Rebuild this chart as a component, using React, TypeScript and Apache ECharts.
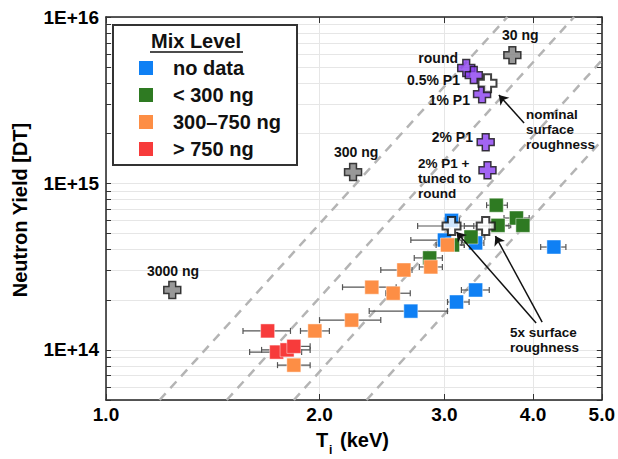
import React, { useEffect, useRef } from "react";
import * as echarts from "echarts";

const FONT = "'Liberation Sans', Arial, Helvetica, sans-serif";

const xTickValues = [1, 2, 3, 4, 5];
const yLabelValues = [1e14, 1e15, 1e16];
const yTickValues = [
  5e13, 6e13, 7e13, 8e13, 9e13,
  1e14, 2e14, 3e14, 4e14, 5e14, 6e14, 7e14, 8e14, 9e14,
  1e15, 2e15, 3e15, 4e15, 5e15, 6e15, 7e15, 8e15, 9e15, 1e16,
];

// [Ti (keV), yield, Ti low, Ti high]
const noData = [
  [3.07, 6.0e14, 3.0, 3.15],
  [3.0, 4.57e14, 2.69, 3.18],
  [3.32, 4.39e14, 3.17, 3.41],
  [4.28, 4.15e14, 4.1, 4.45],
  [3.32, 2.29e14, 3.17, 3.47],
  [3.12, 1.94e14, 3.03, 3.25],
  [2.69, 1.71e14, 2.35, 3.03],
];
const under300 = [
  [3.55, 7.4e14, 3.44, 3.68],
  [3.79, 6.2e14, 3.64, 3.95],
  [3.87, 5.6e14, 3.82, 3.92],
  [3.57, 5.6e14, 3.47, 3.72],
  [3.27, 4.77e14, 3.15, 3.42],
  [3.08, 4.27e14, 2.98, 3.2],
  [2.86, 3.57e14, 2.72, 2.98],
];
const mid300to750 = [
  [3.03, 4.27e14, 2.92, 3.2],
  [2.87, 3.15e14, 2.765, 2.98],
  [2.63, 3.02e14, 2.44, 2.7],
  [2.54, 2.19e14, 2.48, 2.685],
  [2.37, 2.38e14, 2.155, 2.565],
  [2.22, 1.51e14, 2.0, 2.44],
  [1.97, 1.3e14, 1.88, 2.065],
  [1.84, 8.1e13, 1.745, 1.94],
];
const over750 = [
  [1.69, 1.3e14, 1.56, 1.82],
  [1.74, 9.7e13, 1.594, 1.887],
  [1.8, 1.0e14, 1.657, 1.94],
  [1.84, 1.05e14, 1.774, 1.94],
];
// simulations
const purpleSims = [
  [3.22, 4.94e15],
  [3.3, 4.48e15],
  [3.39, 3.44e15],
  [3.43, 1.77e15],
  [3.45, 1.2e15],
];
const graySims = [
  [3.74, 5.9e15],
  [2.23, 1.17e15],
  [1.24, 2.29e14],
];
const whiteNominal = [[3.45, 4.0e15]];
const white5x = [
  [3.07, 5.55e14, 2.75, 3.3],
  [3.43, 5.55e14, 3.2, 3.7],
];
// dashed guide lines: [start, end]
const guideLines = [
  [[1.19, 5e13], [3.68, 1e16]],
  [[1.48, 5e13], [4.57, 1e16]],
  [[1.84, 5e13], [5, 5.49e15]],
  [[2.33, 5e13], [5, 1.81e15]],
];
// arrows: [from, to]
const arrows = [
  [[3.885, 2.31e15], [3.58, 3.4e15]],
  [[4.04, 1.45e14], [3.12, 5.1e14]],
  [[4.12, 1.47e14], [3.54, 4.83e14]],
];

const legendLabels = ["no data", "< 300 ng", "300\u2013750 ng", "> 750 ng"];
const legendColors = ["#0f80f4", "#2e7a22", "#fd8e45", "#f73b3b"];

const CROSS =
  "path://M3,0 L7,0 L7,3 L10,3 L10,7 L7,7 L7,10 L3,10 L3,7 L0,7 L0,3 L3,3 Z";

function errorBarSeries(data: number[][], z: number) {
  return {
    type: "custom",
    data,
    z,
    silent: true,
    encode: { x: [0, 2, 3], y: 1 },
    renderItem: (params: any, api: any) => {
      const y = api.value(1);
      const lo = api.coord([api.value(2), y]);
      const hi = api.coord([api.value(3), y]);
      const st = { stroke: "#555", lineWidth: 1.2 };
      return {
        type: "group",
        children: [
          { type: "line", shape: { x1: lo[0], y1: lo[1], x2: hi[0], y2: hi[1] }, style: st },
          { type: "line", shape: { x1: lo[0], y1: lo[1] - 3, x2: lo[0], y2: lo[1] + 3 }, style: st },
          { type: "line", shape: { x1: hi[0], y1: hi[1] - 3, x2: hi[0], y2: hi[1] + 3 }, style: st },
        ],
      };
    },
  };
}

function squareSeries(data: number[][], color: string, z: number) {
  return {
    type: "scatter",
    data: data.map((d) => [d[0], d[1]]),
    symbol: "rect",
    symbolSize: 14,
    z,
    itemStyle: { color, borderColor: "rgba(255,255,255,0.45)", borderWidth: 1, opacity: 1 },
  };
}

export default function App() {
  const ref = useRef<HTMLDivElement>(null);
  useEffect(() => {
    if (!ref.current) return;
    const chart = echarts.init(ref.current, undefined, { renderer: "svg" });
    const axisCommon = {
      type: "log",
      logBase: 10,
    };
    const lineStyleAxis = { color: "#222", width: 1.5 };
    const option: any = {
      animation: false,
      backgroundColor: "#fff",
      grid: { left: 106, right: 15, top: 17, bottom: 59 },
      xAxis: [
        {
          ...axisCommon,
          min: 1,
          max: 5,
          position: "bottom",
          axisLine: { show: true, lineStyle: lineStyleAxis },
          axisTick: { show: true, inside: true, length: 6, customValues: xTickValues, lineStyle: { color: "#333" } },
          minorTick: { show: false },
          axisLabel: {
            customValues: xTickValues,
            formatter: (v: number) => v.toFixed(1),
            fontSize: 19,
            fontWeight: "bold",
            fontFamily: FONT,
            color: "#000",
            margin: 5,
          },
          splitLine: { show: true, lineStyle: { color: "#e6e6e6", width: 1 } },
        },
        {
          ...axisCommon,
          min: 1,
          max: 5,
          position: "top",
          axisLine: { show: true, lineStyle: lineStyleAxis },
          axisTick: { show: true, inside: true, length: 6, customValues: xTickValues, lineStyle: { color: "#333" } },
          axisLabel: { show: false },
          splitLine: { show: false },
        },
      ],
      yAxis: [
        {
          ...axisCommon,
          min: 5e13,
          max: 1e16,
          position: "left",
          axisLine: { show: true, lineStyle: lineStyleAxis },
          axisTick: { show: true, inside: true, length: 5, customValues: yTickValues, lineStyle: { color: "#333" } },
          axisLabel: {
            customValues: yLabelValues,
            formatter: (v: number) => "1E+" + Math.round(Math.log10(v)),
            fontSize: 19,
            fontWeight: "bold",
            fontFamily: FONT,
            color: "#000",
            margin: 7,
          },
          splitLine: { show: true, lineStyle: { color: "#e6e6e6", width: 1 } },
        },
        {
          ...axisCommon,
          min: 5e13,
          max: 1e16,
          position: "right",
          axisLine: { show: true, lineStyle: lineStyleAxis },
          axisTick: { show: true, inside: true, length: 5, customValues: yTickValues, lineStyle: { color: "#333" } },
          axisLabel: { show: false },
          splitLine: { show: false },
        },
      ],
      series: [
        ...guideLines.map((l) => ({
          type: "line",
          data: l,
          symbol: "none",
          silent: true,
          clip: true,
          z: 1,
          lineStyle: { color: "#b4b4b4", width: 2.5, type: [9, 7] },
        })),
        errorBarSeries([...noData, ...under300, ...mid300to750, ...over750, ...white5x], 2),
        squareSeries(noData, legendColors[0], 3),
        squareSeries(under300, legendColors[1], 4),
        squareSeries(mid300to750, legendColors[2], 5),
        squareSeries(over750, legendColors[3], 6),
        {
          type: "scatter",
          data: graySims,
          symbol: CROSS,
          symbolSize: 17,
          z: 7,
          itemStyle: { color: "#7e7e7e", borderColor: "#111", borderWidth: 1.5 },
        },
        {
          type: "scatter",
          data: purpleSims,
          symbol: CROSS,
          symbolSize: 17,
          z: 7,
          itemStyle: { color: "#8b3ef0", borderColor: "#111", borderWidth: 1.5 },
        },
        {
          type: "scatter",
          data: [...whiteNominal, ...white5x.map((d) => [d[0], d[1]])],
          symbol: CROSS,
          symbolSize: 18,
          z: 8,
          itemStyle: { color: "#fff", borderColor: "#111", borderWidth: 2 },
          markLine: {
            silent: true,
            symbol: ["none", "arrow"],
            symbolSize: 9,
            label: { show: false },
            lineStyle: { color: "#111", width: 1.5, type: "solid" },
            data: arrows.map((a) => [{ coord: a[0] }, { coord: a[1] }]),
          },
        },
      ],
      graphic: [],
    };

    const T = (text: string, x: number, y: number, opts: any = {}) => ({
      type: "text",
      x,
      y,
      z: 100,
      silent: true,
      style: {
        text,
        fontFamily: FONT,
        fontWeight: "bold",
        fontSize: 14,
        lineHeight: 14,
        fill: "#111",
        textAlign: "left",
        textVerticalAlign: "middle",
        ...opts,
      },
    });

    const g: any[] = [];
    // legend
    g.push({
      type: "rect",
      z: 99,
      shape: { x: 113, y: 25, width: 184, height: 140 },
      style: { fill: "#fff", stroke: "#333", lineWidth: 2 },
    });
    g.push(T("Mix Level", 196, 41, { fontSize: 20, lineHeight: 22, textAlign: "center" }));
    g.push({
      type: "line",
      z: 100,
      shape: { x1: 150, y1: 52, x2: 243, y2: 52 },
      style: { stroke: "#111", lineWidth: 1.5 },
    });
    const legendY = [68, 95, 122, 149];
    legendLabels.forEach((lab, i) => {
      g.push({
        type: "rect",
        z: 100,
        shape: { x: 139, y: legendY[i] - 7, width: 14, height: 14 },
        style: { fill: legendColors[i] },
      });
      g.push(T(lab, 173, legendY[i], { fontSize: 20, lineHeight: 22 }));
    });
    // annotations
    const multi = { textVerticalAlign: "top", fontSize: 13.5, lineHeight: 15 };
    g.push(T("30 ng", 502, 35));
    g.push(T("round", 458, 58, { textAlign: "right" }));
    g.push(T("0.5% P1", 460, 80, { textAlign: "right" }));
    g.push(T("1% P1", 470, 100, { textAlign: "right" }));
    g.push(T("2% P1", 473, 137, { textAlign: "right" }));
    g.push(T("2% P1 +\ntuned to\nround", 418, 156, multi));
    g.push(T("nominal\nsurface\nroughness", 526, 107, multi));
    g.push(T("300 ng", 334, 152));
    g.push(T("3000 ng", 147, 271));
    g.push(T("5x surface\nroughness", 510, 325, multi));
    // axis names
    g.push(T("T", 316, 440, { fontSize: 20, lineHeight: 22, fill: "#000" }));
    g.push(T("i", 329, 450, { fontSize: 12, lineHeight: 12, fill: "#000" }));
    g.push(T("(keV)", 340, 440, { fontSize: 20, lineHeight: 22, fill: "#000" }));
    g.push({
      type: "text",
      x: 20,
      y: 210,
      rotation: Math.PI / 2,
      z: 100,
      silent: true,
      style: {
        text: "Neutron Yield [DT]",
        fontFamily: FONT,
        fontWeight: "bold",
        fontSize: 20,
        fill: "#000",
        textAlign: "center",
        textVerticalAlign: "middle",
      },
    });
    option.graphic = g;

    chart.setOption(option);
    return () => chart.dispose();
  }, []);
  return (
    <div
      ref={ref}
      style={{ position: "fixed", left: 0, top: 0, width: 618, height: 459, background: "#fff" }}
    />
  );
}
